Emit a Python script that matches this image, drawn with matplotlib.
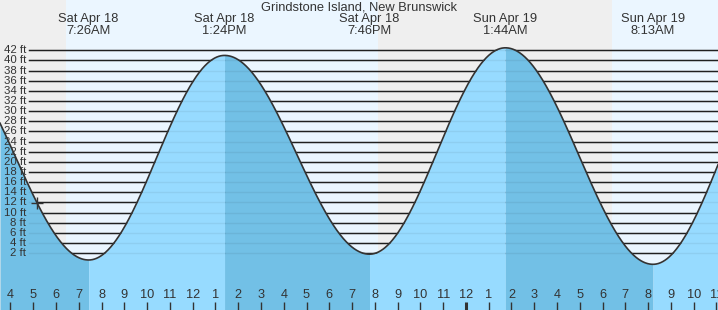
import numpy as np
import matplotlib.pyplot as plt
from matplotlib.transforms import blended_transform_factory

# tide highs / lows, hours counted from Sat Apr 18 00:00
event_hours = [1.0, 7.433, 13.4, 19.767, 25.733, 32.217, 38.17]
event_ft = [41.4, 0.65, 41.0, 1.8, 42.5, -0.2, 41.8]
event_days = ['', 'Sat Apr 18', 'Sat Apr 18', 'Sat Apr 18', 'Sun Apr 19', 'Sun Apr 19', '']
event_times = ['', '7:26AM', '1:24PM', '7:46PM', '1:44AM', '8:13AM', '']

# night (sunset -> sunrise), hours
night_spans = [(-1.0, 6.43), (20.13, 30.42)]
now_hour = 5.17

ft_levels = list(range(2, 44, 2))
hour_ticks = list(range(4, 36))

t_min, t_max = 3.539, 35.07
y_min, y_max = -9.21, 51.93

title = 'Grindstone Island, New Brunswick'
text_col = '#333333'
font = 'Liberation Sans'


def tide_at(t):
    t = np.atleast_1d(t).astype(float)
    h = np.zeros_like(t)
    for i in range(len(event_hours) - 1):
        t0, t1 = event_hours[i], event_hours[i + 1]
        h0, h1 = event_ft[i], event_ft[i + 1]
        m = (t >= t0) & (t <= t1)
        f = (t[m] - t0) / (t1 - t0)
        h[m] = h0 + (h1 - h0) * (1 - np.cos(np.pi * f)) / 2
    return h


fig = plt.figure(figsize=(7.18, 3.10), dpi=100)
ax = fig.add_axes([0, 0, 1, 1])
ax.set_xlim(t_min, t_max)
ax.set_ylim(y_min, y_max)
ax.set_facecolor('#ebf6ff')
for s in ax.spines.values():
    s.set_visible(False)
ax.set_xticks([])
ax.set_yticks([])

for a, b in night_spans:
    ax.axvspan(a, b, color='#efefef', lw=0, zorder=0)

# level lines
x0 = 29 / 718
for lv in ft_levels:
    ax.axhline(lv, xmin=x0, color='#222222', lw=1.05, zorder=1)

# tide fill, light when rising, dark when falling
for i in range(len(event_hours) - 1):
    t0, t1 = max(event_hours[i], t_min), min(event_hours[i + 1], t_max)
    if t1 <= t0:
        continue
    tt = np.linspace(t0, t1, 300)
    col = '#97dbff' if event_ft[i + 1] > event_ft[i] else '#72c0e6'
    ax.fill_between(tt, y_min, tide_at(tt), color=col, lw=0, zorder=2)

for lv in ft_levels:
    ax.axhline(lv, xmin=x0, color='black', alpha=0.06, lw=1.0, zorder=3)

tt = np.linspace(t_min, t_max, 2000)
ax.plot(tt, tide_at(tt), color='#333333', lw=1.2, zorder=4)
ax.plot([now_hour], tide_at(now_hour), marker='+', ms=9, mew=1.0,
        color='#333333', zorder=5)

# y labels
ty = blended_transform_factory(ax.transAxes, ax.transData)
for lv in ft_levels:
    ax.text(26 / 718, lv, f'{lv} ft', transform=ty, ha='right', va='center',
            fontsize=8.2, color=text_col, family=font, zorder=6)

# hour ticks and labels
tx = blended_transform_factory(ax.transData, ax.transAxes)
for h in hour_ticks:
    lab = h % 12 or 12
    lw = 2.2 if h % 24 == 0 else 1.0
    ax.plot([h, h], [0, 8 / 310], transform=tx, color='#333333', lw=lw,
            solid_capstyle='butt', zorder=6)
    ax.text(h, 1 - 295.5 / 310, str(lab), transform=tx, ha='center',
            va='center', fontsize=9.2, color=text_col, family=font, zorder=6)

# event labels
for t, d, tm in zip(event_hours, event_days, event_times):
    if not d:
        continue
    ax.text(t, 1 - 19.3 / 310, d, transform=tx, ha='center', va='center',
            fontsize=9.3, color=text_col, family=font, zorder=6)
    ax.text(t, 1 - 31.5 / 310, tm, transform=tx, ha='center', va='center',
            fontsize=9.3, color=text_col, family=font, zorder=6)

ax.text(0.5, 1 - 7.3 / 310, title, transform=ax.transAxes, ha='center',
        va='center', fontsize=9.3, color=text_col, family=font, zorder=6)

fig.savefig('out.png', dpi=100)
